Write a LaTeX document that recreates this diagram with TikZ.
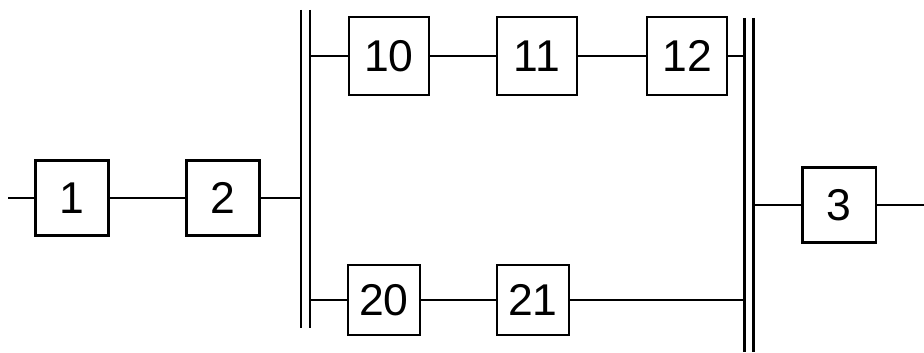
\documentclass[tikz,border=0pt]{standalone}
\usepackage{fontspec}
\setmainfont{Liberation Sans}
\usetikzlibrary{calc}
\tikzset{
  blk/.style={draw,line width=2pt,minimum width=22mm,minimum height=22.5mm,inner sep=0pt,font=\fontsize{38}{40}\selectfont},
  bus/.style={draw=none,inner sep=0pt,minimum width=2.6mm},
  wire/.style={line width=2pt}
}
\begin{document}
\begin{tikzpicture}[x=0.3mm,y=-0.3mm]
	\useasboundingbox (0,0) rectangle (924,352);
	% blocks
	\foreach \n/\x/\y in {1/72/198,2/223/198,3/839/205}{
		\node[blk] (b\n) at (\x,\y) {\n};
	}
	\foreach \n/\x/\y in {10/389/56,11/537/56,12/687/56}{
		\node[blk,minimum width=24mm,minimum height=23.5mm] (b\n) at (\x,\y) {\n};
	}
	\foreach \n/\x/\y in {20/384/300,21/533/300}{
		\node[blk,minimum width=21.5mm,minimum height=21mm] (b\n) at (\x,\y) {\n};
	}
	% double bars
	\node[bus,minimum height=95.4mm] (busL) at (305.5,169) {};
	\node[bus,minimum height=100.2mm] (busR) at (749,185) {};
	\foreach \b in {busL,busR}{
		\draw[wire] (\b.north west) -- (\b.south west) (\b.north east) -- (\b.south east);
	}
	\coordinate (in) at (8,198);
	\coordinate (out) at (924,205);
	% connections
	\draw[wire] (in) -- (b1);
	\draw[wire] (b1) -- (b2);
	\draw[wire] (b2) -- (b2 -| busL.west);
	\draw[wire] (busL.east |- b10) -- (b10);
	\draw[wire] (b10) -- (b11);
	\draw[wire] (b11) -- (b12);
	\draw[wire] (b12) -- (b12 -| busR.west);
	\draw[wire] (busL.east |- b20) -- (b20);
	\draw[wire] (b20) -- (b21);
	\draw[wire] (b21) -- (b21 -| busR.west);
	\draw[wire] (busR.east |- b3) -- (b3);
	\draw[wire] (b3) -- (out);
\end{tikzpicture}
\end{document}
